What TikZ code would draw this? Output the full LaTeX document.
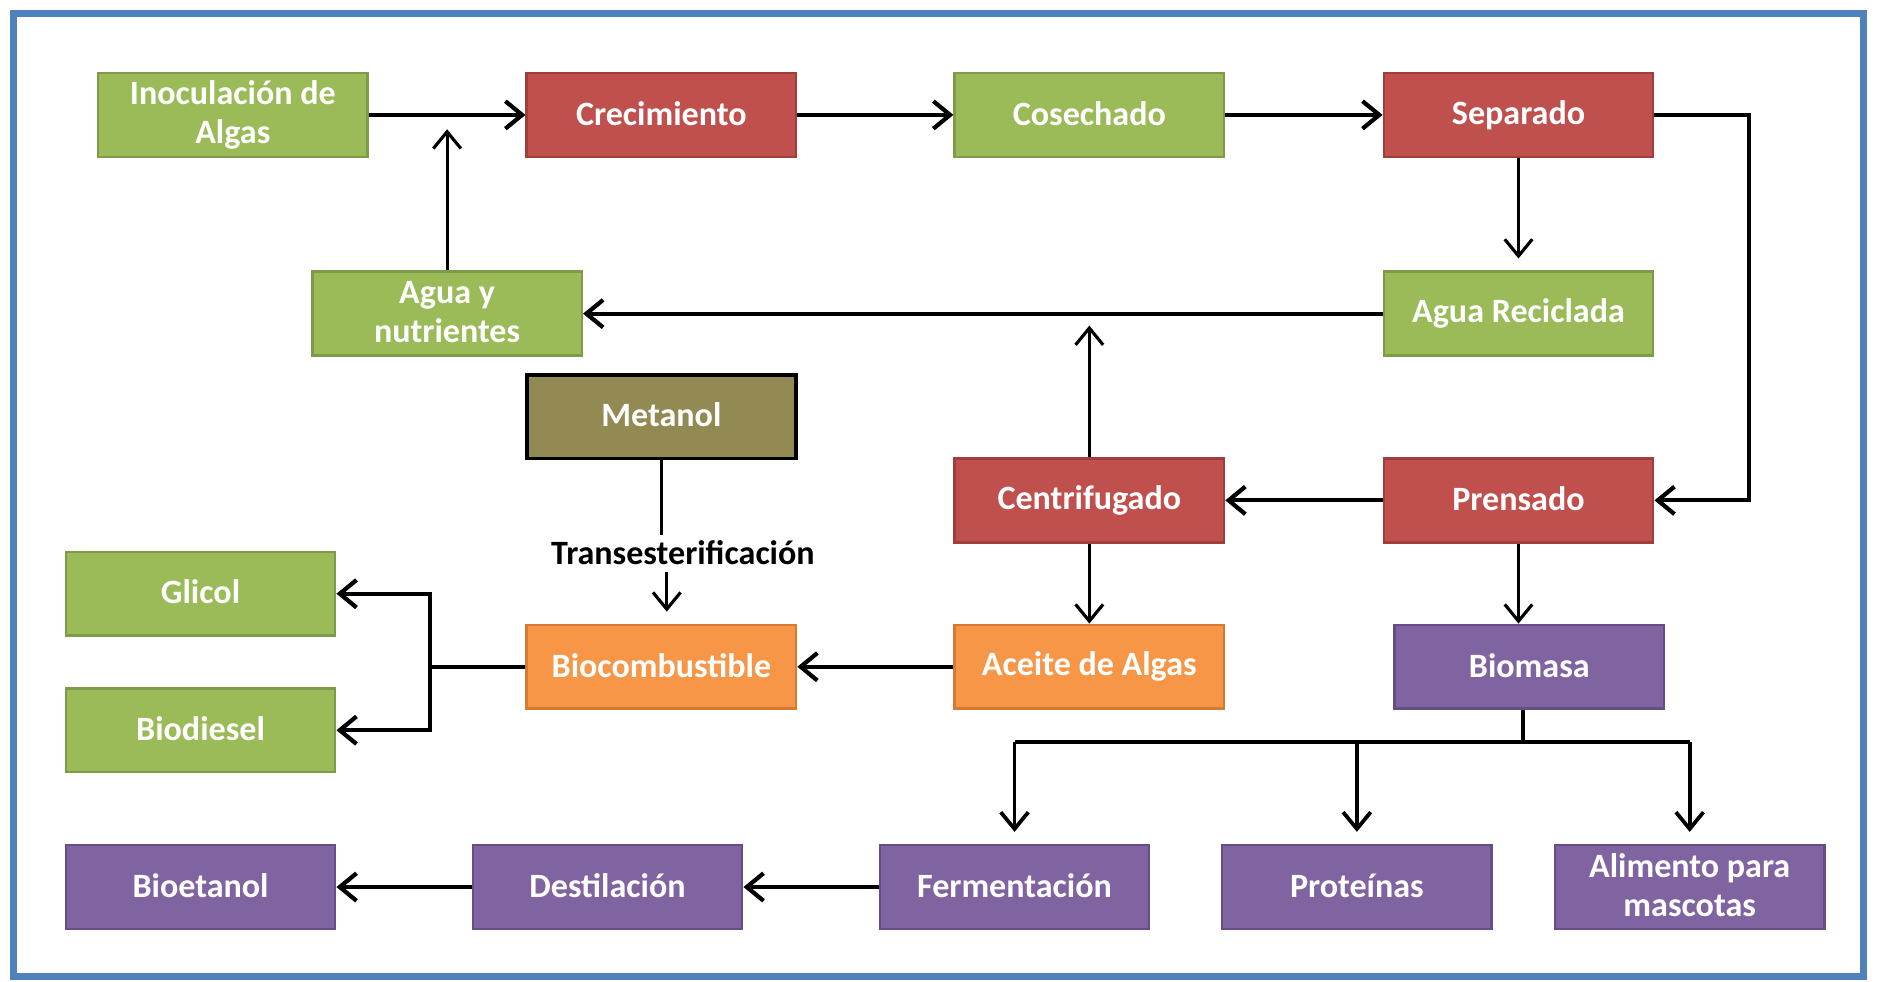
\documentclass[tikz,border=0pt]{standalone}
\usepackage{fontspec}
\setmainfont{Carlito}
\usetikzlibrary{arrows.meta}
\definecolor{mygreen}{HTML}{9BBB59}
\definecolor{mygreen2}{HTML}{7F9A48}
\definecolor{myred}{HTML}{C0504D}
\definecolor{myred2}{HTML}{9F3E3B}
\definecolor{myorange}{HTML}{F79646}
\definecolor{myorange2}{HTML}{D47A35}
\definecolor{mypurple}{HTML}{8064A2}
\definecolor{mypurple2}{HTML}{664E84}
\definecolor{myolive}{HTML}{938953}
\definecolor{myblue}{HTML}{4F81BD}

\tikzset{
    box/.style={minimum width=2.25cm, minimum height=0.7cm, inner sep=1pt, align=center,
        text=white, font=\bfseries\fontsize{8.1}{9.3}\selectfont, line width=0.6pt,
        execute at begin node={\rule[-0.1em]{0pt}{0.8em}}},
    greenbox/.style={box, fill=mygreen, draw=mygreen2},
    redbox/.style={box, fill=myred, draw=myred2},
    orangebox/.style={box, fill=myorange, draw=myorange2},
    purplebox/.style={box, fill=mypurple, draw=mypurple2},
    olivebox/.style={box, fill=myolive, draw=black, line width=0.9pt},
    flow/.style={->, line width=1pt},
    thinflow/.style={->, line width=0.75pt},
}

\begin{document}
\begin{tikzpicture}[>={Straight Barb[length=1.4mm, width=2.3mm]}]

    \useasboundingbox (0, 0) rectangle (15.68, 8.195);

    % Frame
    \draw[color=myblue, line width=0.06cm] (0.11, 0.035) rectangle (15.57, 8.085);

% Top row
    \node[greenbox] (inoc) at (1.945, 7.235) {Inoculación de\\Algas};
    \node[redbox] (crec) at (5.525, 7.235) {Crecimiento};
    \node[greenbox] (cose) at (9.10, 7.235) {Cosechado};
    \node[redbox] (sepa) at (12.685, 7.235) {Separado};

% Water recycling
    \node[greenbox] (aguan) at (3.735, 5.575) {Agua y\\nutrientes};
    \node[greenbox] (aguar) at (12.685, 5.575) {Agua Reciclada};

% Oil extraction
    \node[olivebox] (meta) at (5.525, 4.715) {Metanol};
    \node[redbox] (cent) at (9.10, 4.015) {Centrifugado};
    \node[redbox] (pren) at (12.685, 4.015) {Prensado};

    \node[font=\bfseries\fontsize{8.1}{9.3}\selectfont] (trans) at (5.705, 3.575) {Transesterificación};
    \coordinate (t1) at (5.57, 3.725);
    \coordinate (t2) at (5.57, 3.415);

% Fuels
    \node[greenbox] (glic) at (1.675, 3.235) {Glicol};
    \node[orangebox] (bioc) at (5.525, 2.625) {Biocombustible};
    \node[orangebox] (acei) at (9.10, 2.625) {Aceite de Algas};
    \node[purplebox] (biom) at (12.775, 2.625) {Biomasa};
    \node[greenbox] (biod) at (1.675, 2.095) {Biodiesel};

% Bottom row
    \node[purplebox] (bioe) at (1.675, 0.785) {Bioetanol};
    \node[purplebox] (dest) at (5.075, 0.785) {Destilación};
    \node[purplebox] (ferm) at (8.475, 0.785) {Fermentación};
    \node[purplebox] (prot) at (11.335, 0.785) {Proteínas};
    \node[purplebox] (alim) at (14.115, 0.785) {Alimento para\\mascotas};

    % Arrows along the top row
    \draw[flow] (inoc) -- (crec);
    \draw[flow] (crec) -- (cose);
    \draw[flow] (cose) -- (sepa);
    \draw[flow] (sepa.east) -- ++(0.79, 0) |- (pren.east);
    \draw[thinflow, shorten >=0.1cm] (sepa) -- (aguar);

    % Water loop
    \draw[flow] (aguar) -- (aguan);
    \draw[thinflow] (aguan.north) -- ([yshift=-0.12cm]aguan.north |- inoc.east);
    \draw[thinflow] (cent.north) -- ([yshift=-0.1cm]cent.north |- aguar.west);

    % Pressing
    \draw[flow] (pren) -- (cent);
    \draw[thinflow] (cent) -- (acei);
    \draw[thinflow] (pren.south) -- (pren.south |- biom.north);
    \draw[flow] (acei) -- (bioc);

    % Methanol
    \draw[line width=0.75pt] (meta.south) -- (meta.south |- t1);
    \draw[thinflow, shorten >=0.1cm] (t2) -- (t2 |- bioc.north);

    % Biofuel split
    \draw[flow] (bioc.west) -- ++(-0.8, 0) |- (glic.east);
    \draw[flow] (bioc.west) -- ++(-0.8, 0) |- (biod.east);

    % Biomass branches
    \draw[line width=0.9pt] ([xshift=-0.05cm]biom.south) -- ++(0, -0.27) coordinate (b1);
    \draw[line width=0.9pt] (b1 -| ferm.north) -- (b1 -| alim.north);
    \foreach \n in {ferm, prot, alim} {
        \draw[thinflow, line width=0.9pt, shorten >=0.1cm] (b1 -| \n.north) -- (\n.north);
    }

    % Bottom row arrows
    \draw[flow] (ferm) -- (dest);
    \draw[flow] (dest) -- (bioe);

\end{tikzpicture}
\end{document}
